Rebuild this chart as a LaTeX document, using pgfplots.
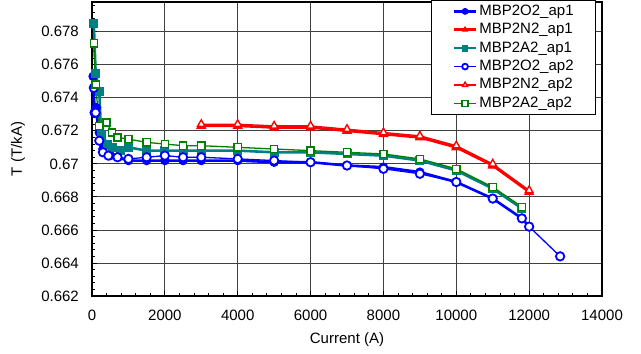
\documentclass[border=0pt]{standalone}
\usepackage{pgfplots}
\pgfplotsset{compat=1.18}
\usepackage{fontspec}
\setmainfont{Liberation Sans}

\definecolor{cblue}{RGB}{0,0,255}
\definecolor{cred}{RGB}{255,0,0}
\definecolor{cteal}{RGB}{0,128,128}
\definecolor{cgreen}{RGB}{0,128,0}

\begin{document}
\begin{tikzpicture}
\begin{axis}[
  name=ax,
  scale only axis,
  width=510pt, height=294pt,
  xmin=0, xmax=14000, ymin=0.662, ymax=0.6798,
  xtick={0,2000,...,14000},
  ytick={0.662,0.664,...,0.679},
  minor x tick num=4, minor y tick num=4,
  tick pos=left, tick align=inside,
  major tick length=5pt, minor tick length=3pt,
  scaled x ticks=false, scaled y ticks=false,
  /pgf/number format/assume math mode=true,
  /pgf/number format/1000 sep={},
  yticklabel style={/pgf/number format/fixed, /pgf/number format/precision=3},
  xmajorgrids, ymajorgrids,
  major grid style={black!75, line width=0.8pt},
  axis line style={black, line width=1.4pt},
  every tick/.style={black, line width=0.8pt},
  font=\fontsize{15}{17}\selectfont,
  yticklabel style={anchor=east, inner sep=0pt, xshift=-13pt},
  xticklabel style={anchor=north, inner sep=0pt, yshift=-14pt},
  xlabel={Current (A)},
  ylabel={T (T/kA)},
  xlabel style={at={(axis description cs:0.5,-0.1497)}, anchor=center},
  ylabel style={at={(axis description cs:-0.1451,0.5)}, anchor=center},
  legend cell align=left,
  legend style={at={(rel axis cs:1,1)}, anchor=north east, xshift=-6pt, yshift=2pt,
    draw=black, line width=0.8pt, fill=white,
    inner xsep=21pt, inner ysep=3pt, row sep=2.4pt, column sep=1pt,
    nodes={inner sep=1pt, text height=11pt, text depth=3pt},
    font=\fontsize{15}{17}\selectfont},
  legend image code/.code={%
    \draw[#1, mark=none] (0pt,0pt) -- (22pt,0pt);
    \draw[#1, only marks, mark size=2.9pt] plot coordinates {(11pt,0pt)};
  },
]

% series ap1: thick lines, filled marks
\addplot[cblue, line width=2.6pt, mark=*, mark size=4.2pt, mark options={fill=cblue, line width=1pt}]
coordinates {
(30,0.6753) (60,0.6731) (120,0.6734) (200,0.6719) (300,0.6709) (500,0.6705)
(1000,0.6702) (1500,0.6702) (2000,0.6702) (2500,0.6702) (3000,0.6702)
(4000,0.6702) (5000,0.6701) (6000,0.6701) (7000,0.6699) (8000,0.6698)
(9000,0.6695) (10000,0.6689) (11000,0.6679) (11800,0.6667) (12000,0.6662)
};
\addlegendentry{MBP2O2\_ap1}

\addplot[cred, line width=2.6pt, mark=triangle*, mark size=5pt, mark options={fill=cred, line width=1pt}]
coordinates {
(3000,0.6723) (4000,0.6723) (5000,0.6722) (6000,0.6722) (7000,0.6720)
(8000,0.6718) (9000,0.6716) (10000,0.6710) (11000,0.6699) (12000,0.6683)
};
\addlegendentry{MBP2N2\_ap1}

\addplot[cteal, line width=2.6pt, mark=square*, mark size=4pt, mark options={fill=cteal, line width=1pt}]
coordinates {
(50,0.6785) (100,0.6755) (200,0.6744) (250,0.6718) (430,0.6712) (550,0.6710)
(775,0.6708) (1000,0.6710) (1500,0.6708) (2000,0.6708) (2500,0.6708)
(3000,0.6708) (4000,0.6708) (5000,0.6707) (6000,0.6707) (7000,0.6706)
(8000,0.6705) (9000,0.6702) (10000,0.6696) (11000,0.6685) (11800,0.6673)
};
\addlegendentry{MBP2A2\_ap1}

% series ap2: thin lines, open marks
\addplot[cblue, line width=1.3pt, mark=*, mark size=4.2pt, mark options={fill=white, line width=1.8pt}]
coordinates {
(50,0.6746) (100,0.6731) (200,0.6714) (300,0.6707) (450,0.6705) (700,0.6704)
(1000,0.6703) (1500,0.6704) (2000,0.6705) (2500,0.6704) (3000,0.6704)
(4000,0.6703) (5000,0.6702) (6000,0.6701) (7000,0.6699) (8000,0.6697)
(9000,0.6694) (10000,0.6689) (11000,0.6679) (11800,0.6667) (12000,0.6662)
(12850,0.6644)
};
\addlegendentry{MBP2O2\_ap2}

\addplot[cred, line width=1.3pt, mark=triangle*, mark size=4.4pt, mark options={fill=white, line width=1.4pt}]
coordinates {
(3000,0.6724) (4000,0.6724) (5000,0.6723) (6000,0.6723) (7000,0.6721)
(8000,0.6719) (9000,0.6717) (10000,0.6711) (11000,0.6700) (12000,0.6684)
};
\addlegendentry{MBP2N2\_ap2}

\addplot[cgreen, line width=1.3pt, mark=square*, mark size=3.6pt, mark options={fill=white, line width=1.4pt}]
coordinates {
(50,0.6773) (100,0.6748) (200,0.6723) (400,0.6725) (550,0.6719) (700,0.6716)
(1000,0.6715) (1500,0.6713) (2000,0.6712) (2500,0.6711) (3000,0.6711)
(4000,0.6710) (5000,0.6709) (6000,0.6708) (7000,0.6707) (8000,0.6706)
(9000,0.6703) (10000,0.6697) (11000,0.6686) (11800,0.6674)
};
\addlegendentry{MBP2A2\_ap2}

\end{axis}
\pgfresetboundingbox
\path ([xshift=-92pt,yshift=-57pt]ax.south west) rectangle ([xshift=39pt,yshift=2pt]ax.north east);
\end{tikzpicture}
\end{document}
